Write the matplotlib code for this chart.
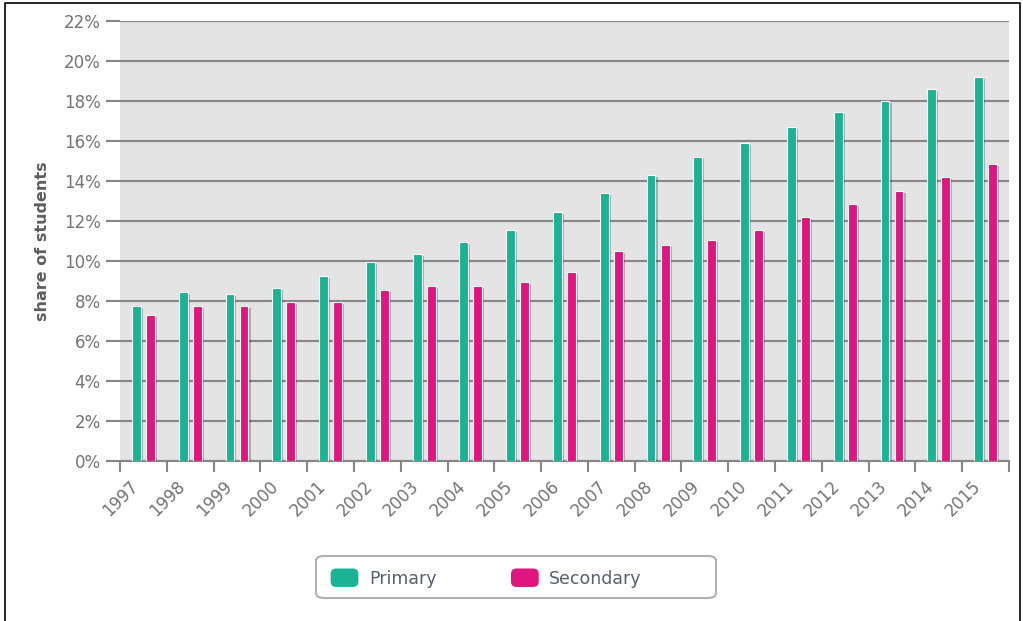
import numpy as np
import matplotlib
matplotlib.use("Agg")
import matplotlib.pyplot as plt
import matplotlib.patheffects as pe
import matplotlib.transforms as mtransforms
from matplotlib.patches import FancyBboxPatch
from matplotlib.container import BarContainer
from matplotlib.legend_handler import HandlerPatch

years = [str(y) for y in range(1997, 2016)]
primary = [7.75, 8.45, 8.35, 8.65, 9.25, 9.95, 10.35, 10.95, 11.55, 12.45,
           13.4, 14.3, 15.2, 15.9, 16.7, 17.45, 18.0, 18.6, 19.2]
secondary = [7.3, 7.75, 7.75, 7.95, 7.95, 8.55, 8.75, 8.75, 8.95, 9.45,
             10.5, 10.8, 11.05, 11.55, 12.2, 12.85, 13.5, 14.2, 14.85]

teal = "#1ab394"
pink = "#e0157f"
grid_col = "#868686"
text_col = "#747474"

fig = plt.figure(figsize=(10.23, 6.21), dpi=100)
ax = fig.add_axes([0.1173, 0.2577, 0.869, 0.7085])
ax.set_facecolor("#e4e4e4")

x = np.arange(len(years))
w = 0.19
shadow = [pe.SimplePatchShadow(offset=(1.5, -1.2), shadow_rgbFace="k", alpha=0.25), pe.Normal()]
ax.bar(x - 0.15, primary, w, color=teal, edgecolor="white", linewidth=0.8,
       label="Primary", path_effects=shadow, zorder=3)
ax.bar(x + 0.15, secondary, w, color=pink, edgecolor="white", linewidth=0.8,
       label="Secondary", path_effects=shadow, zorder=3)

ax.set_xlim(-0.5, len(years) - 0.5)
ax.set_ylim(0, 22)
ax.set_yticks(range(0, 23, 2))
ax.set_yticklabels([f"{v}%" for v in range(0, 23, 2)])
ax.yaxis.grid(True, color=grid_col, linewidth=1.5, zorder=1)
ax.set_axisbelow(True)

for s in ["top", "right", "left"]:
    ax.spines[s].set_visible(False)
ax.spines["bottom"].set_color(grid_col)
ax.spines["bottom"].set_linewidth(1.5)

ax.tick_params(axis="y", length=10, width=1.5, color=grid_col, pad=4,
               labelsize=12, labelcolor=text_col)

# year labels at group centers, tick marks between groups
ax.set_xticks(x)
ax.set_xticklabels(years, rotation=45, ha="right", rotation_mode="anchor")
ax.tick_params(axis="x", which="major", length=0, pad=12, labelsize=12, labelcolor=text_col)
ax.set_xticks(np.arange(len(years) + 1) - 0.5, minor=True)
ax.tick_params(axis="x", which="minor", length=8, width=1.5, color=grid_col)
shift = mtransforms.ScaledTranslation(-14 / 100, 0, fig.dpi_scale_trans)
for lbl in ax.get_xticklabels():
    lbl.set_transform(lbl.get_transform() + shift)

ax.set_ylabel("share of students", fontsize=11.5, fontweight="bold", color="#5e5e5e", labelpad=10)


def rounded_handle(legend, orig_handle, xdescent, ydescent, width, height, fontsize):
    return FancyBboxPatch((-xdescent + 2, -ydescent + 2), width - 4, height - 4,
                          boxstyle="round,pad=2,rounding_size=4")


def copy_bar_style(handle, orig):
    handle.update_from(orig.patches[0])
    handle.set_edgecolor("none")
    handle.set_path_effects([])


leg = fig.legend(loc="center left", bbox_to_anchor=(0.3147, 0.0692), ncol=2, frameon=False,
                 fontsize=12.5, handlelength=1.6, handleheight=1.26, borderpad=0,
                 columnspacing=4.3, handletextpad=0.6,
                 handler_map={BarContainer: HandlerPatch(patch_func=rounded_handle,
                                                         update_func=copy_bar_style)})
for t in leg.get_texts():
    t.set_color("#56606c")

# legend box
fig.add_artist(FancyBboxPatch((316 / 1023, 23 / 621), 400 / 1023, 42 / 621,
                              boxstyle="round,pad=0,rounding_size=0.008",
                              transform=fig.transFigure, facecolor="none",
                              edgecolor="#b0b0b0", linewidth=1.5))

# outer frame lines on left, top and right
fig.add_artist(plt.Line2D([0.005, 0.005, 0.997, 0.997], [0.0, 0.995, 0.995, 0.0],
                          transform=fig.transFigure, color="black", linewidth=1.2))

fig.savefig("out.png", dpi=100)
